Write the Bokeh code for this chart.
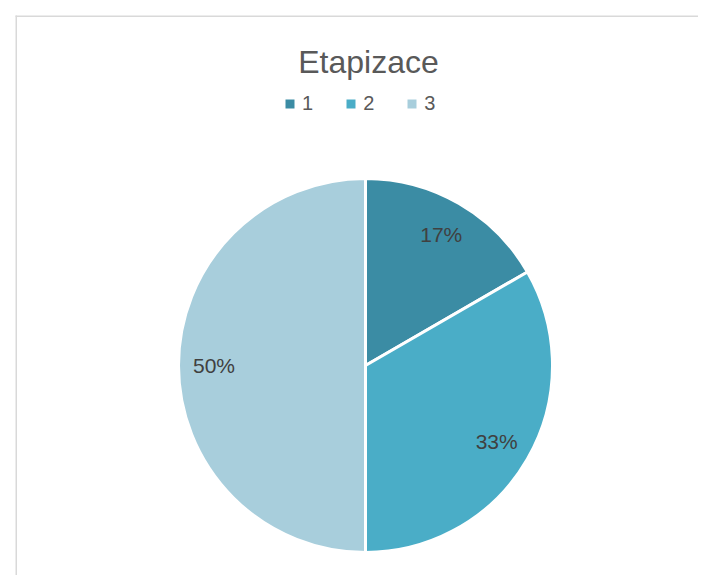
import math
from bokeh.plotting import figure
from bokeh.models import ColumnDataSource, Range1d, Legend, LegendItem, Label, BoxAnnotation
from bokeh.core.properties import value
from bokeh.embed import file_html
from bokeh.resources import INLINE

# data
categories = ["1", "2", "3"]
values = [1, 2, 3]
colors = ["#3B8CA4", "#4AADC7", "#A8CEDC"]
title_text = "Etapizace"

W, H = 698, 575
cx, cy = 365, 365  # pie centre in canvas pixels (from top-left)
R = 187

total = float(sum(values))
starts, ends, lx, ly, labels = [], [], [], [], []
a = math.pi / 2
for v in values:
    frac = v / total
    s = a
    e = a - frac * 2 * math.pi
    starts.append(s)
    ends.append(e)
    mid = (s + e) / 2
    lx.append(0.81 * R * math.cos(mid))
    ly.append(0.81 * R * math.sin(mid))
    labels.append("%d%%" % round(frac * 100))
    a = e

src = ColumnDataSource(dict(cat=categories, val=values, color=colors,
                            start=starts, end=ends, lx=lx, ly=ly, lab=labels))

p = figure(width=W, height=H, output_backend="svg", toolbar_location=None,
           x_range=Range1d(-cx, W - cx), y_range=Range1d(-(H - cy), cy),
           min_border=0, min_border_left=0, min_border_right=0,
           min_border_top=0, min_border_bottom=0)
p.axis.visible = False
p.grid.visible = False
p.outline_line_color = None
p.background_fill_color = "white"
p.border_fill_color = "white"

# chart area border (top/left visible, rest beyond window); screen y counts from bottom
p.add_layout(BoxAnnotation(left=15, right=16.5, top=H - 15,
                           left_units="screen", right_units="screen", top_units="screen",
                           fill_color="#D9D9D9", fill_alpha=1.0, line_color=None))
p.add_layout(BoxAnnotation(left=15, top=H - 15, bottom=H - 16.5,
                           left_units="screen", top_units="screen", bottom_units="screen",
                           fill_color="#D9D9D9", fill_alpha=1.0, line_color=None))

r = p.wedge(x=0, y=0, radius=R, start_angle="start", end_angle="end",
            direction="clock", fill_color="color", line_color="white",
            line_width=3, source=src)

p.text(x="lx", y="ly", text="lab", source=src, text_align="center",
       text_baseline="middle", text_font=value("Liberation Sans"),
       text_font_size="21px", text_color="#404040")

items = [LegendItem(label=c, renderers=[r], index=i) for i, c in enumerate(categories)]
legend = Legend(items=items, orientation="horizontal", location=(282, 460),
                glyph_width=15, glyph_height=15, label_standoff=5, spacing=30,
                padding=0, margin=0, border_line_color=None,
                background_fill_color=None, label_text_font="Liberation Sans",
                label_text_font_size="20px", label_text_color="#595959",
                label_height=20, label_width=0)
p.add_layout(legend)

p.add_layout(Label(x=368, y=H - 61, x_units="screen", y_units="screen",
                   text=title_text, text_align="center", text_baseline="alphabetic",
                   text_font="Liberation Sans", text_font_size="32px",
                   text_color="#595959"))

open("out.html", "w").write(file_html(p, INLINE))
